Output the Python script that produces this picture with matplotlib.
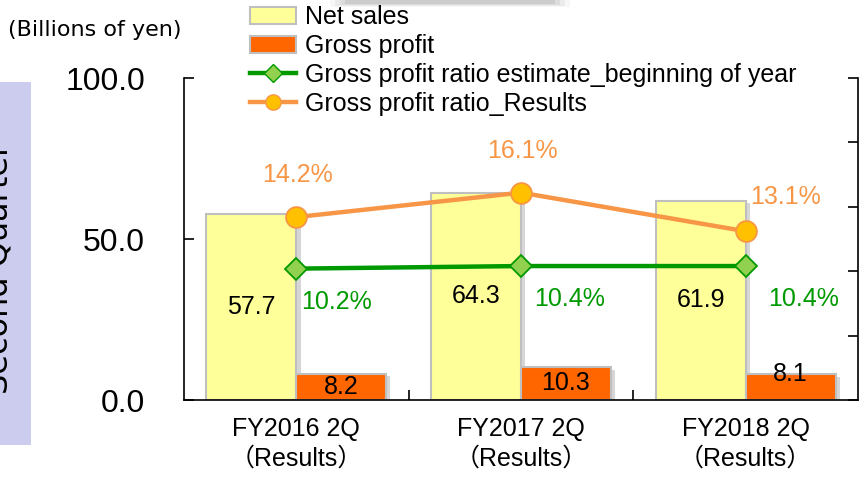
import matplotlib
matplotlib.use("Agg")
import matplotlib.pyplot as plt
import matplotlib.patheffects as pe
from matplotlib.patches import Patch, Rectangle
from matplotlib.lines import Line2D

plt.rcParams['font.family'] = ['Liberation Sans Narrow', 'Liberation Sans', 'Noto Sans CJK JP', 'DejaVu Sans']

#---------------- data ----------------#
categories = ["FY2016 2Q\n（Results）", "FY2017 2Q\n（Results）", "FY2018 2Q\n（Results）"]
net_sales = [57.7, 64.3, 61.9]
gross_profit = [8.2, 10.3, 8.1]
ratio_estimate = [10.2, 10.4, 10.4]   # %
ratio_results = [14.2, 16.1, 13.1]    # %

# hand placed label nudges in the original (points)
gp_nudge = [(0, 0), (0, 0), (0, 9)]
res_nudge = [(1, 30), (1, 30), (29, 25)]
est_nudge = [(29, -24), (35, -24), (42, -24)]

#---------------- colours ----------------#
c_sales = "#FFFF99"
c_gp = "#FF6600"
c_est = "#009900"
c_est_face = "#92D050"
c_res = "#F79646"
c_res_face = "#FFC000"
c_edge = "#BFBFBF"

fig = plt.figure(figsize=(8.66, 4.83), dpi=100)
ax = fig.add_axes([184/866, 1-400/483, 674/866, 322/483])

x = list(range(len(categories)))
w = 0.4
shadow = [pe.SimplePatchShadow(offset=(3, -2), shadow_rgbFace="#999999", alpha=0.4), pe.Normal()]

b1 = ax.bar([i - w/2 for i in x], net_sales, w, color=c_sales, edgecolor=c_edge, lw=1.5)
b2 = ax.bar([i + w/2 for i in x], gross_profit, w, color=c_gp, edgecolor=c_edge, lw=1.5)
for p in list(b1) + list(b2):
    p.set_path_effects(shadow)

for i, v in enumerate(net_sales):
    ax.annotate(f"{v:.1f}", (i - w/2, v/2), ha="center", va="center", fontsize=18)
for i, v in enumerate(gross_profit):
    ax.annotate(f"{v:.1f}", (i + w/2, v/2), xytext=gp_nudge[i], textcoords="offset points",
                ha="center", va="center", fontsize=18)

ax.set_xlim(-0.5, 2.5)
ax.set_ylim(0, 100)
ax.set_yticks([0, 50, 100])
ax.set_yticklabels(["0.0", "50.0", "100.0"], family=["Liberation Sans", "DejaVu Sans"], fontsize=23)
ax.set_xticks(x)
ax.set_xticklabels(categories, fontsize=18, linespacing=1.3)
ax.set_xticks([0.5, 1.5], minor=True)
ax.tick_params(axis="x", which="major", length=0, pad=12)
ax.tick_params(axis="x", which="minor", direction="in", length=7, width=1.2)
ax.tick_params(axis="y", direction="in", length=7, width=1.2, pad=28)
for s in ["top", "right"]:
    ax.spines[s].set_visible(False)
for s in ["left", "bottom"]:
    ax.spines[s].set_linewidth(1.2)

ax2 = ax.twinx()
ax2.set_ylim(0, 25)
ax2.set_yticks(range(0, 26, 5))
ax2.set_yticklabels([])
ax2.tick_params(axis="y", direction="in", length=7, width=1.2)
for s in ["top", "left", "bottom"]:
    ax2.spines[s].set_visible(False)
ax2.spines["right"].set_linewidth(1.2)

ax2.plot(x, ratio_estimate, color=c_est, lw=3.2, marker="D", ms=11,
         mfc=c_est_face, mec=c_est, mew=1.3, zorder=3)
ax2.plot(x, ratio_results, color=c_res, lw=3.2, marker="o", ms=15,
         mfc=c_res_face, mec=c_res, mew=1.3, zorder=3)

for i, v in enumerate(ratio_results):
    ax2.annotate(f"{v:.1f}%", (i, v), xytext=res_nudge[i], textcoords="offset points",
                 ha="center", va="center", fontsize=18, color=c_res)
for i, v in enumerate(ratio_estimate):
    ax2.annotate(f"{v:.1f}%", (i, v), xytext=est_nudge[i], textcoords="offset points",
                 ha="center", va="center", fontsize=18, color=c_est)

# legend
handles = [
    Patch(facecolor=c_sales, edgecolor=c_edge, lw=1.5),
    Patch(facecolor=c_gp, edgecolor=c_edge, lw=1.5),
    Line2D([], [], color=c_est, lw=3.2, marker="D", ms=9, mfc=c_est_face, mec=c_est),
    Line2D([], [], color=c_res, lw=3.2, marker="o", ms=11, mfc=c_res_face, mec=c_res),
]
labels = ["Net sales", "Gross profit", "Gross profit ratio estimate_beginning of year",
          "Gross profit ratio_Results"]
fig.legend(handles, labels, loc="upper left", bbox_to_anchor=(240/866, 1 + 5/483),
           frameon=False, fontsize=18, handlelength=1.85, handletextpad=0.35,
           labelspacing=0.2, borderaxespad=0)

# header bits
fig.text(8/866, 1-30/483, "(Billions of yen)", family="DejaVu Sans", fontsize=16,
         va="center", ha="left")
fig.patches.append(Rectangle((0, 1-445/483), 31/866, 363/483, transform=fig.transFigure,
                             facecolor="#CCCCEE", edgecolor="none", zorder=0))
fig.text(15/866, 1-268/483, "Second Quarter", rotation=90, family="DejaVu Sans",
         fontsize=23, ha="right", va="center")
for k, a in enumerate([0.06, 0.09, 0.12, 0.15]):
    fig.patches.append(Rectangle(((330 + 5*k)/866, 1-(7 - k)/483), (240 - 10*k)/866, (7 - k)/483,
                                 transform=fig.transFigure, facecolor="#777777",
                                 edgecolor="none", alpha=a))

fig.savefig("out.png", dpi=100)
